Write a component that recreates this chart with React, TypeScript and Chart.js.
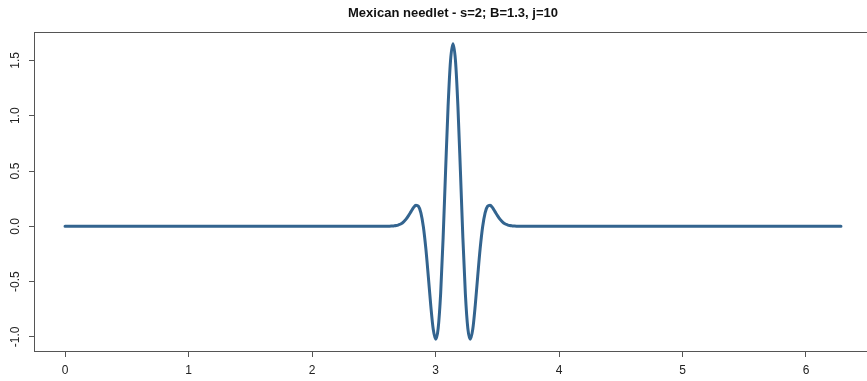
import { useEffect, useRef } from "react";
import { Chart, registerables } from "chart.js";

Chart.register(...registerables);

const TITLE = "Mexican needlet - s=2; B=1.3, j=10";
const CENTER = 3.1416;
const X_START = 0;
const X_END = 6.2832;

// offsets (radians) from the centre of the needlet
const offsets = [
  -0.6, -0.58, -0.56, -0.54, -0.52, -0.5, -0.48, -0.46, -0.44, -0.42,
  -0.4, -0.38, -0.36, -0.34, -0.32, -0.3, -0.28, -0.26, -0.24, -0.22,
  -0.2, -0.18, -0.16, -0.14, -0.12, -0.1, -0.08, -0.06, -0.04, -0.02,
  0,
  0.02, 0.04, 0.06, 0.08, 0.1, 0.12, 0.14, 0.16, 0.18, 0.2,
  0.22, 0.24, 0.26, 0.28, 0.3, 0.32, 0.34, 0.36, 0.38, 0.4,
  0.42, 0.44, 0.46, 0.48, 0.5, 0.52, 0.54, 0.56, 0.58, 0.6,
];

const needlet = [
  0, 0, 0, 0, 0.001, 0.002, 0.004, 0.007, 0.014, 0.024,
  0.041, 0.065, 0.097, 0.133, 0.169, 0.19, 0.181, 0.122, -0.004, -0.2,
  -0.452, -0.716, -0.931, -1.02, -0.921, -0.607, -0.104, 0.501, 1.08, 1.498,
  1.65,
  1.498, 1.08, 0.501, -0.104, -0.607, -0.921, -1.02, -0.931, -0.716, -0.452,
  -0.2, -0.004, 0.122, 0.181, 0.19, 0.169, 0.133, 0.097, 0.065, 0.041,
  0.024, 0.014, 0.007, 0.004, 0.002, 0.001, 0, 0, 0, 0,
];

const xTicks = [0, 1, 2, 3, 4, 5, 6];
const yTicks = [-1.0, -0.5, 0.0, 0.5, 1.0, 1.5];
const yTickLabels = ["-1.0", "-0.5", "0.0", "0.5", "1.0", "1.5"];

const FONT = "'Liberation Sans', Arial, sans-serif";
const LINE_COLOR = "#33648f";
const AXIS_COLOR = "#555555";
const TEXT_COLOR = "#222222";

export default function App() {
  const ref = useRef<HTMLCanvasElement | null>(null);

  useEffect(() => {
    if (!ref.current) return;
    const points = [{ x: X_START, y: 0 }];
    offsets.forEach((d, i) => points.push({ x: CENTER + d, y: needlet[i] }));
    points.push({ x: X_END, y: 0 });

    const overlay = {
      id: "rOverlay",
      afterDraw(chart: any) {
        const { ctx, chartArea } = chart;
        const { left, right, top, bottom } = chartArea;
        ctx.save();
        ctx.strokeStyle = AXIS_COLOR;
        ctx.lineWidth = 1;
        ctx.strokeRect(Math.round(left) + 0.5, Math.round(top) + 0.5, right - left, bottom - top);
        ctx.fillStyle = "#111111";
        ctx.font = `bold 13px ${FONT}`;
        ctx.textAlign = "center";
        ctx.textBaseline = "middle";
        ctx.fillText(TITLE, (left + right) / 2, 13);
        const ys = chart.scales.y;
        ctx.fillStyle = TEXT_COLOR;
        ctx.font = `12px ${FONT}`;
        yTicks.forEach((v, i) => {
          const py = ys.getPixelForValue(v);
          ctx.save();
          ctx.translate(16, py);
          ctx.rotate(-Math.PI / 2);
          ctx.fillText(yTickLabels[i], 0, 0);
          ctx.restore();
        });
        ctx.restore();
      },
    };

    const chart = new Chart(ref.current, {
      type: "scatter",
      data: {
        datasets: [
          {
            data: points,
            showLine: true,
            borderColor: LINE_COLOR,
            borderWidth: 3,
            borderJoinStyle: "round",
            borderCapStyle: "round",
            pointRadius: 0,
            cubicInterpolationMode: "monotone",
          },
        ],
      },
      options: {
        animation: false,
        responsive: false,
        maintainAspectRatio: false,
        layout: { padding: { left: 0, top: 32, right: 8, bottom: 0 } },
        plugins: {
          legend: { display: false },
          tooltip: { enabled: false },
          title: { display: false },
        },
        scales: {
          x: {
            type: "linear",
            min: -0.2513,
            max: 6.5345,
            afterBuildTicks: (s: any) => {
              s.ticks = xTicks.map((v) => ({ value: v }));
            },
            afterFit: (s: any) => {
              s.height = 30;
            },
            ticks: {
              font: { family: FONT, size: 12 },
              color: TEXT_COLOR,
              padding: 6,
              maxRotation: 0,
              autoSkip: false,
            },
            grid: {
              drawOnChartArea: false,
              drawTicks: true,
              tickLength: 6,
              color: AXIS_COLOR,
            },
            border: { display: false },
          },
          y: {
            type: "linear",
            min: -1.127,
            max: 1.757,
            afterBuildTicks: (s: any) => {
              s.ticks = yTicks.map((v) => ({ value: v }));
            },
            afterFit: (s: any) => {
              s.width = 34;
            },
            ticks: { display: false },
            grid: {
              drawOnChartArea: false,
              drawTicks: true,
              tickLength: 5,
              color: AXIS_COLOR,
            },
            border: { display: false },
          },
        },
      },
      plugins: [overlay],
    });
    return () => chart.destroy();
  }, []);

  return (
    <div
      style={{
        position: "fixed",
        left: 0,
        top: 0,
        width: 867,
        height: 381,
        overflow: "hidden",
        background: "#ffffff",
      }}
    >
      <canvas ref={ref} width={880} height={381} style={{ display: "block" }} />
    </div>
  );
}
